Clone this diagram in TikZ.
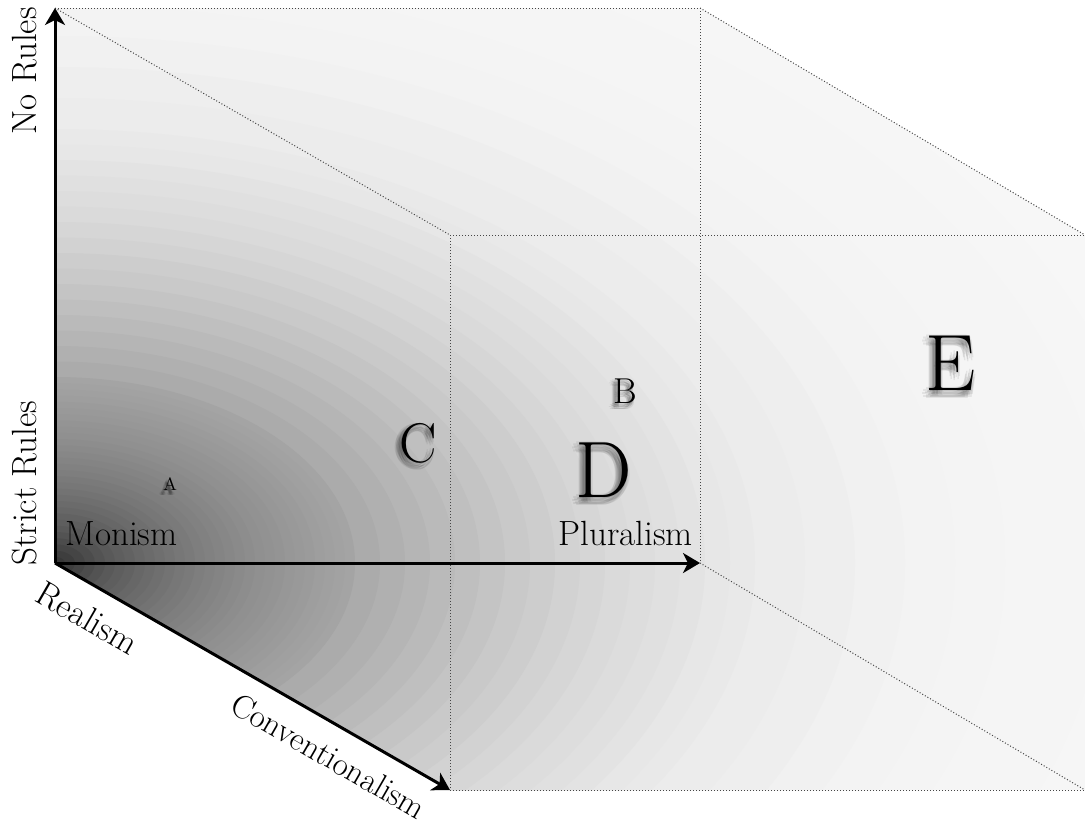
\documentclass[tikz,border=0pt]{standalone}
\usetikzlibrary{arrows.meta,calc}
\tikzset{
  axisarrow/.style={line width=1.5pt, line join=miter, -{Stealth[length=8.5pt,width=10pt,inset=2.5pt]}},
  cubeedge/.style={line width=0.5pt, draw=gray!55!black, dash pattern=on 0.5pt off 1pt},
  axlabel/.style={inner sep=0pt, font=\fontsize{17.5}{20}\selectfont},
}
\newcommand\shletter[5]{% name, position, size, shadow radius, text
  \foreach \k/\a/\f in {1/0/1, 2/45/1, 3/90/1, 4/135/1, 5/180/1, 6/225/1, 7/270/1, 8/315/1, 9/22/0.45, 10/112/0.45, 11/202/0.45, 12/292/0.45}{
    \node[inner sep=0pt, text=black, text opacity=0.07, font=\fontsize{#3}{#3}\selectfont] (#1-sh\k) at ($(#2)+(-3,4)+({#4*\f*cos(\a)},{#4*\f*sin(\a)})$) {#5};
  }
  \node[inner sep=0pt, font=\fontsize{#3}{#3}\selectfont] (#1) at (#2) {#5};
}
\begin{document}
\begin{tikzpicture}[x=0.5pt,y=-0.5pt]
\useasboundingbox (0,0) rectangle (1085,827);
% corners
\coordinate (O) at (55,563);
\coordinate (Y) at (55,8);
\coordinate (X) at (700,563);
\coordinate (Z) at (450,790);
\coordinate (P1) at (700,8);
\coordinate (F1) at (450,235);
\coordinate (P2) at (1085,235);
\coordinate (P3) at (1085,790);
% shading: concentric ellipses around the origin
\begin{scope}
  \clip (Y) -- (P1) -- (P2) -- (P3) -- (Z) -- (O) -- cycle;
  \fill[black!3] (0,0) rectangle (1085,827);
  \foreach \r/\g in {1100/3.5, 1050/3.8, 1000/4.1, 950/4.4, 900/4.8, 850/5.5, 800/6.5, 750/7.5, 700/8.5, 675/9.6, 650/10.8, 625/12, 600/13.3, 575/14.7, 550/16.2, 525/17.8, 500/19.5, 475/21.3, 450/23.2, 425/25.1, 400/27, 375/29, 350/31, 325/33, 300/35.5, 290/36.4, 280/37.3, 270/38.2, 260/39.1, 250/40, 240/40.9, 230/41.8, 220/42.7, 210/43.6, 200/44.6, 190/45.8, 180/47, 170/48.2, 160/49.4, 150/50.7, 140/52.1, 130/53.5, 120/54.9, 110/56.3, 100/57.9, 90/59.7, 80/61.5, 70/63.3, 60/65.1, 50/67.4, 40/70.2, 30/73, 20/75.8, 10/78.6}{
    \fill[black!\g] (O) ellipse [x radius=\r, y radius=0.62*\r];
  }
\end{scope}
% cube edges
\draw[cubeedge] (Y) -- (P1);
\draw[cubeedge] (Y) -- (F1);
\draw[cubeedge] (P1) -- (P2);
\draw[cubeedge] (F1) -- (P2);
\draw[cubeedge] (F1) -- (Z);
\draw[cubeedge] (P1) -- (X);
\draw[cubeedge] (X) -- (P3);
\draw[cubeedge] (Z) -- (P3);
% axes
\draw[axisarrow] (O) -- (Y);
\draw[axisarrow] (O) -- (X);
\draw[axisarrow] (O) -- (Z);
% axis labels
\node[axlabel, rotate=90, anchor=base west] (norules) at (36,135) {No Rules};
\node[axlabel, rotate=90, anchor=base west] (strict) at (36,566) {Strict Rules};
\node[axlabel, anchor=base west] (monism) at (65,545) {Monism};
\node[axlabel, anchor=base east] (plural) at (693,545) {Pluralism};
\node[axlabel, rotate=-30, anchor=base west] (realism) at (33,600) {Realism};
\node[axlabel, font=\fontsize{16.5}{19}\selectfont, rotate=-30, anchor=base west] (conv) at (228,711) {Conventionalism};
% letters
\coordinate (pA) at (170,484);
\coordinate (pB) at (625,391);
\coordinate (pC) at (418,443);
\coordinate (pD) at (604,470);
\coordinate (pE) at (951,363);
\shletter{A}{pA}{9}{1.5}{A}
\shletter{B}{pB}{18}{2.5}{B}
\shletter{C}{pC}{28}{3.5}{C}
\shletter{D}{pD}{40}{4.5}{D}
\shletter{E}{pE}{40}{4.5}{E}
\end{tikzpicture}
\end{document}
